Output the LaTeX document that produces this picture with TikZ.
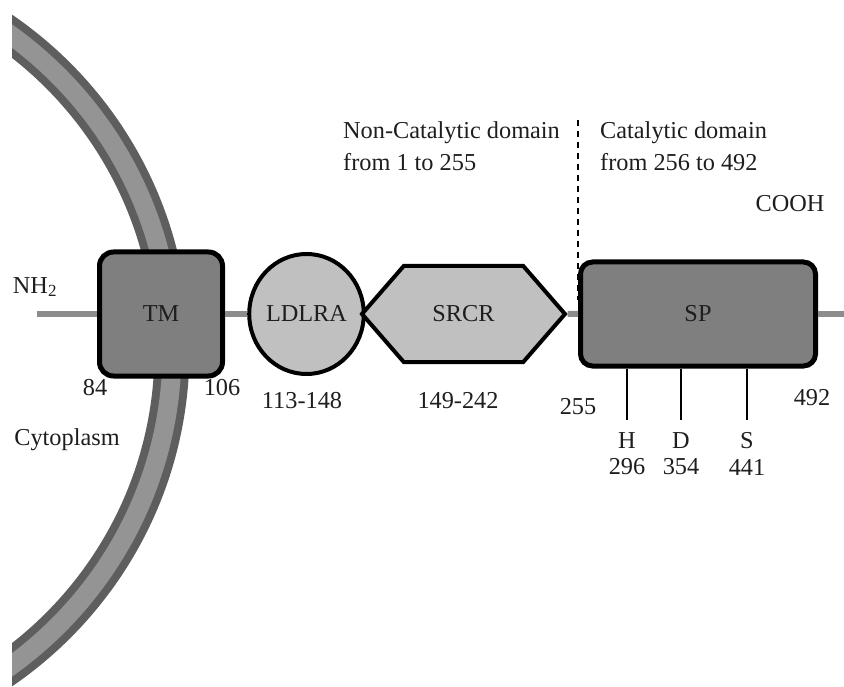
\documentclass[tikz,border=0pt]{standalone}
\usepackage{fontspec}
\setmainfont{Liberation Serif}
\usetikzlibrary{shapes.geometric,shapes.symbols}
\definecolor{membdark}{HTML}{5E5E5E}
\definecolor{memblight}{HTML}{949494}
\definecolor{chaingray}{HTML}{8C8C8C}
\definecolor{spgray}{HTML}{7F7F7F}
\definecolor{lightdom}{HTML}{C0C0C0}
\definecolor{inkgray}{HTML}{1E1E1E}
\tikzstyle{dombox}=[draw=black, line width=5pt, rounded corners=14pt, fill=spgray, text=inkgray]
\tikzstyle{lightdomain}=[draw=black, line width=4pt, fill=lightdom, text=inkgray, inner sep=0pt]
\tikzstyle{backbone}=[chaingray, line width=6pt]
\tikzstyle{site}=[black, line width=1.3pt]
\tikzstyle{numtext}=[text=inkgray, inner sep=0pt]
\tikzstyle{divider}=[black, line width=2.2pt, dash pattern=on 6pt off 5pt]

\begin{document}
\begin{tikzpicture}[x=1pt, y=-1pt, font=\fontsize{24.3}{32}\selectfont]
\useasboundingbox (0,0) rectangle (844,687);

% membrane
\begin{scope}
\clip (12,0) rectangle (844,687);
\draw[membdark, line width=35pt] (-217,350.5) circle[radius=389pt];
\draw[memblight, line width=19pt] (-217,350.5) circle[radius=389pt];
\end{scope}

\node[dombox, minimum width=123pt, minimum height=124pt] (tm) at (161,314) {TM};
\node[lightdomain, ellipse, minimum width=99pt, minimum height=120pt] (ldlra) at (306.5,314) {LDLRA};
\node[lightdomain, signal, signal to=west and east, signal pointer angle=98, minimum width=203pt, minimum height=96pt] (srcr) at (463.5,314) {SRCR};
\node[dombox, rounded corners=12pt, minimum width=235pt, minimum height=104pt] (sp) at (698,314) {SP};

\coordinate (nterm) at (37,314);
\coordinate (cterm) at (844,314);
\draw[backbone] (nterm) -- (tm);
\draw[backbone] (tm) -- (ldlra);
\draw[backbone] (srcr) -- (sp);
\draw[backbone] (sp) -- (cterm);

\coordinate (divtop) at (578,120);
\coordinate (divbot) at (578,300);
\draw[divider] (divtop) -- (divbot);

\node[numtext] (nh2) at (35,287) {NH\textsubscript{2}};
\node[numtext] (cooh) at (790,204) {COOH};
\node[numtext] (cyto) at (67,440) {Cytoplasm};
\node[numtext, anchor=north west, align=left] (noncat) at (343,121) {Non-Catalytic domain\\from 1 to 255};
\node[numtext, anchor=north west, align=left] (cat) at (600,121) {Catalytic domain\\from 256 to 492};

\node[numtext] (p84) at (95,388) {84};
\node[numtext] (p106) at (222,388) {106};
\node[numtext] (p113) at (302,401) {113-148};
\node[numtext] (p149) at (458,401) {149-242};
\node[numtext] (p255) at (578,407) {255};
\node[numtext] (p492) at (812,398) {492};

\node[numtext] (h) at (627,441) {H};
\node[numtext] (d) at (681,441) {D};
\node[numtext] (s) at (747,441) {S};
\node[numtext] (p296) at (627,467) {296};
\node[numtext] (p354) at (681,467) {354};
\node[numtext] (p441) at (747,467) {441};

\draw[site] (h |- sp.south) -- ++(0,51);
\draw[site] (d |- sp.south) -- ++(0,51);
\draw[site] (s |- sp.south) -- ++(0,51);

\end{tikzpicture}
\end{document}
